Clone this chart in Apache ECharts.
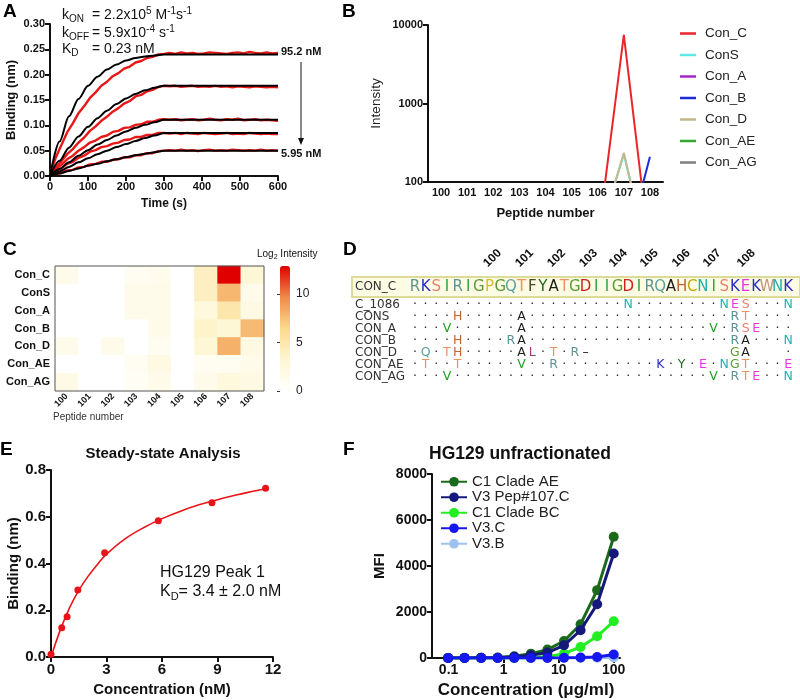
<!DOCTYPE html>
<html>
<head>
<meta charset="utf-8">
<script src="https://cdn.jsdelivr.net/npm/echarts@6/dist/echarts.min.js"></script>
<style>
html,body{margin:0;padding:0;background:#fff}
#main{width:800px;height:700px}
</style>
</head>
<body>
<div id="main"></div>
<script>
var FONT = '"Liberation Sans", Arial, sans-serif';
var AFONT = '"DejaVu Sans", "Noto Sans", sans-serif';

// ---- A: binding kinetics (time in s, binding in nm)
var timeA = [0,15,30,45,60,75,90,105,120,135,150,165,180,195,210,225,240,255,270,285,300,
  315,330,345,360,375,390,405,420,435,450,465,480,495,510,525,540,555,570,585,600];
var raw95 = [0.004,0.036,0.061,0.086,0.104,0.124,0.138,0.154,0.165,0.178,0.186,0.197,0.203,0.212,0.216,0.224,0.227,0.233,0.235,0.240,0.241,
  0.243,0.241,0.244,0.242,0.243,0.241,0.242,0.244,0.243,0.242,0.241,0.243,0.244,0.242,0.245,0.243,0.242,0.244,0.242,0.243];
var raw48 = [0.003,0.017,0.029,0.043,0.053,0.066,0.076,0.089,0.098,0.109,0.117,0.127,0.134,0.143,0.148,0.157,0.160,0.167,0.170,0.176,0.178,
  0.177,0.178,0.176,0.177,0.178,0.176,0.177,0.176,0.178,0.176,0.177,0.175,0.177,0.176,0.175,0.177,0.176,0.175,0.176,0.175];
var raw24 = [0.002,0.014,0.022,0.033,0.040,0.050,0.057,0.066,0.070,0.077,0.080,0.087,0.089,0.095,0.096,0.101,0.102,0.107,0.107,0.111,0.112,
  0.111,0.112,0.110,0.111,0.112,0.110,0.111,0.113,0.111,0.110,0.112,0.111,0.113,0.110,0.111,0.112,0.110,0.111,0.110,0.109];
var raw12 = [0.002,0.010,0.015,0.024,0.028,0.036,0.040,0.048,0.051,0.057,0.059,0.064,0.066,0.071,0.072,0.077,0.077,0.081,0.081,0.085,0.085,
  0.084,0.085,0.083,0.085,0.084,0.083,0.085,0.084,0.083,0.084,0.085,0.083,0.084,0.083,0.085,0.084,0.083,0.084,0.083,0.083];
var raw6 = [0.001,0.005,0.006,0.011,0.012,0.017,0.018,0.023,0.024,0.028,0.028,0.032,0.033,0.037,0.037,0.041,0.041,0.045,0.045,0.049,0.050,
  0.051,0.050,0.052,0.050,0.051,0.049,0.051,0.052,0.050,0.051,0.050,0.052,0.051,0.050,0.051,0.050,0.052,0.050,0.051,0.050];
var fitT = [0,25,50,75,100,125,150,175,200,225,250,275,300,600];
var fit95 = [0,0.068,0.118,0.152,0.178,0.196,0.210,0.220,0.228,0.233,0.236,0.238,0.240,0.240];
var fit48 = [0,0.030,0.056,0.078,0.097,0.114,0.129,0.142,0.153,0.162,0.169,0.174,0.178,0.178];
var fit24 = [0,0.014,0.027,0.040,0.051,0.062,0.071,0.080,0.088,0.095,0.101,0.106,0.111,0.111];
var fit12 = [0,0.009,0.018,0.027,0.035,0.043,0.050,0.057,0.063,0.069,0.075,0.080,0.085,0.085];
var fit6 = [0,0.005,0.010,0.015,0.020,0.024,0.029,0.033,0.037,0.041,0.044,0.047,0.050,0.050];

// ---- B: peptide intensities
var pepCats = ['100','101','102','103','104','105','106','107','108'];
var bNames = ['Con_C','ConS','Con_A','Con_B','Con_D','Con_AE','Con_AG'];
var bColors = ['#e8262b','#5fe6e6','#a526c8','#1c2be0','#c4b88e','#2faa2f','#7f7f7f'];
var bValues = [
  [3,1,1,2,2,1,18,7500,12],
  [1,1,1,3,3,1,19,225,9],
  [1,1,1,3,3,1,6,32,4],
  [1,1,1,1,3,1,11,11,210],
  [3,1,3,1,2,1,17,236,9],
  [1,1,1,2,4,1,2,2,3],
  [3,1,1,2,3,1,3,6,4]
];

// ---- C: log2 intensity heat map
var heatRows = ['Con_C','ConS','Con_A','Con_B','Con_D','Con_AE','Con_AG'];
var heatLog2 = [
  [1.4,0,0,1.0,1.2,0,4.0,12.9,3.0],
  [0,0,0,1.5,1.5,0,4.0,7.8,1.5],
  [0,0,0,1.5,1.5,0,2.5,5.0,2.0],
  [0,0,0,0,1.5,0,3.5,3.0,7.7],
  [1.5,0,1.5,0,1.0,0,3.0,8.1,2.0],
  [0,0,0,1.0,2.0,0,1.0,1.0,1.5],
  [1.8,0,0,0.8,1.5,0,1.5,2.5,2.0]
];

// ---- D: alignment
var seqConC = 'RKSIRIGPGQTFYATGDIIGDIRQAHCNISKEKWNK';
var alignRows = ['C_1086','CONS','CON_A','CON_B','CON_D','CON_AE','CON_AG'];
var alignSeqs = [
  '....................N........NES...N',
  '....H.....A...................RT....',
  '...V......A.................V.RSE...',
  '....H....RA...................RA...N',
  '.Q.TH.....AL.T.R-             GA   .',
  '.T..T.....V..R.........K.Y.E.NGT...E',
  '...V........................V.RTE..N'
];
var pepLabels = ['100','101','102','103','104','105','106','107','108'];
var pepLabelPos = [8, 11, 14, 17, 19.8, 22.7, 25.7, 28.6, 31.8];

// ---- E: steady state
var concE = [0, 0.58, 0.87, 1.45, 2.9, 5.8, 8.7, 11.6];
var bindE = [0.012, 0.125, 0.172, 0.287, 0.446, 0.583, 0.66, 0.722];
var fitConcE = [0,0.5,1,1.5,2,2.5,3,4,5,6,7,8,9,10,11,11.6];
var fitBindE = [0,0.115,0.21,0.285,0.345,0.395,0.44,0.505,0.553,0.592,0.624,0.651,0.673,0.693,0.710,0.720];

// ---- F: MFI titration
var concF = [0.098,0.195,0.39,0.78,1.56,3.125,6.25,12.5,25,50,100];
var fNames = ['C1 Clade AE','V3 Pep#107.C','C1 Clade BC','V3.C','V3.B'];
var fColors = ['#1b6a1b','#14197a','#22ee22','#1616ee','#9ec2f0'];
var fLayer = [3, 5, 4, 6, 2];
var fValues = [
  [5,8,12,20,75,190,365,740,1470,2950,5270],
  [2,4,6,10,50,118,235,553,1206,2338,4546],
  [0,0,0,0,5,10,60,190,480,945,1598],
  [0,0,0,0,0,0,5,10,20,45,150],
  [0,0,0,0,0,0,0,0,5,10,20]
];

var aaColors = {R:'#5f9393',K:'#2a2ac4',S:'#ee7f6e',I:'#33a044',G:'#5f9a38',P:'#dfbb22',Q:'#5d9e9e',
  T:'#ee9260',F:'#4a4a22',Y:'#236623',A:'#1e1e1e',D:'#d01f1f',H:'#be6634',C:'#bcaa14',N:'#22b0b0',
  E:'#ea36e2',W:'#c49280',V:'#20a020',L:'#a0387f'};

function prism(fs, extra) {
  var o = {
    axisLine: { show: true, onZero: false, lineStyle: { color: '#111', width: 2 } },
    axisTick: { show: true, length: 5, lineStyle: { color: '#111', width: 2 } },
    axisLabel: { color: '#111', fontFamily: FONT, fontWeight: 'bold', fontSize: fs, margin: 5 },
    splitLine: { show: false },
    nameLocation: 'middle',
    nameTextStyle: { color: '#111', fontFamily: FONT, fontWeight: 'bold', fontSize: fs + 2 }
  };
  return Object.assign(o, extra);
}
function pairs(xs, ys) { return xs.map(function (x, i) { return [x, ys[i]]; }); }

var hidden = { color: 'rgba(0,0,0,0)', opacity: 1 };
var series = [];
// A
[raw95, raw48, raw24, raw12, raw6].forEach(function (arr) {
  series.push({ type: 'line', xAxisIndex: 0, yAxisIndex: 0, data: pairs(timeA, arr), symbol: 'none',
    lineStyle: { color: '#e81818', width: 2.4 }, z: 2 });
});
[fit95, fit48, fit24, fit12, fit6].forEach(function (arr) {
  series.push({ type: 'line', xAxisIndex: 0, yAxisIndex: 0, data: pairs(fitT, arr), symbol: 'none',
    smooth: 0.3, smoothMonotone: 'x', lineStyle: { color: '#000', width: 2 }, z: 3 });
});
// B
bNames.forEach(function (n, i) {
  series.push({ type: 'line', name: n, xAxisIndex: 1, yAxisIndex: 1, data: bValues[i], symbol: 'none',
    color: bColors[i], lineStyle: { color: bColors[i], width: 2 }, clip: true });
});
// C
var heatData = [];
heatLog2.forEach(function (row, r) { row.forEach(function (v, c) { heatData.push([c, r, v]); }); });
var heatIndex = series.length;
series.push({ type: 'heatmap', xAxisIndex: 2, yAxisIndex: 2, data: heatData, emphasis: { disabled: true } });
// D header
var letterLabel = { show: true, position: 'inside', formatter: '{b}', fontFamily: AFONT, opacity: 1, textBorderWidth: 0 };
series.push({ type: 'scatter', xAxisIndex: 4, yAxisIndex: 4, symbolSize: 1, itemStyle: hidden, silent: true,
  data: seqConC.split('').map(function (c, i) { return { value: [i + 1, 0], name: c, label: { color: aaColors[c] } }; }),
  label: Object.assign({ fontSize: 15 }, letterLabel) });
series.push({ type: 'scatter', xAxisIndex: 4, yAxisIndex: 4, symbolSize: 1, itemStyle: hidden, silent: true,
  data: pepLabels.map(function (t, i) { return { value: [pepLabelPos[i], 0], name: t }; }),
  label: { show: true, position: 'top', distance: 17, align: 'left', verticalAlign: 'bottom', rotate: 45,
    formatter: '{b}', color: '#111', fontFamily: FONT, fontWeight: 'bold', fontSize: 12, opacity: 1 } });
// D rows
var rowData = [];
alignSeqs.forEach(function (s, r) {
  s.split('').forEach(function (c, i) {
    if (c === ' ') return;
    var t = c === '.' ? '\u00b7' : (c === '-' ? '\u2013' : c);
    rowData.push({ value: [i + 1, r], name: t, label: { color: aaColors[c] || '#222' } });
  });
});
series.push({ type: 'scatter', xAxisIndex: 5, yAxisIndex: 5, symbolSize: 1, itemStyle: hidden, silent: true,
  data: rowData, label: Object.assign({ fontSize: 12.5 }, letterLabel) });
// E
series.push({ type: 'line', xAxisIndex: 6, yAxisIndex: 6, data: pairs(fitConcE, fitBindE), symbol: 'none', smooth: 0.4,
  lineStyle: { color: '#e8141a', width: 1.6 } });
series.push({ type: 'scatter', xAxisIndex: 6, yAxisIndex: 6, data: pairs(concE, bindE), symbolSize: 7,
  itemStyle: { color: '#e8141a', opacity: 1 } });
// F
fNames.forEach(function (n, i) {
  series.push({ type: 'line', name: n, xAxisIndex: 7, yAxisIndex: 7, data: pairs(concF, fValues[i]),
    symbol: 'circle', symbolSize: 10, color: fColors[i], lineStyle: { color: fColors[i], width: 3 },
    itemStyle: { color: fColors[i] }, z: fLayer[i] });
});

function rich(parts, fs, x, y, extra) {
  return Object.assign({
    type: 'text', x: x, y: y, silent: true,
    style: {
      text: parts, fill: '#111', font: fs + 'px ' + FONT, verticalAlign: 'middle',
      rich: {
        m: { fontSize: fs, fontFamily: FONT, lineHeight: fs + 4, fill: '#111' },
        s: { fontSize: Math.round(fs * 0.7), fontFamily: FONT, lineHeight: Math.round(fs * 0.7), verticalAlign: 'bottom', fill: '#111' },
        p: { fontSize: Math.round(fs * 0.7), fontFamily: FONT, lineHeight: Math.round(fs * 0.7), verticalAlign: 'top', fill: '#111' }
      }
    }
  }, extra || {});
}
function letter(t, x, y) {
  return { type: 'text', x: x, y: y, silent: true,
    style: { text: t, fill: '#000', font: 'bold 19px ' + FONT, verticalAlign: 'top' } };
}

var option = {
  animation: false,
  backgroundColor: '#fff',
  title: [
    { text: 'Steady-state Analysis', left: 163, top: 446, padding: 0, textAlign: 'center',
      textStyle: { fontFamily: FONT, fontWeight: 'bold', fontSize: 15, color: '#111' } },
    { text: 'HG129 unfractionated', left: 520, top: 445, padding: 0, textAlign: 'center',
      textStyle: { fontFamily: FONT, fontWeight: 'bold', fontSize: 17.5, color: '#111' } }
  ],
  legend: [
    { data: bNames, orient: 'vertical', left: 680, top: 26, padding: 0, icon: 'rect', itemWidth: 16, itemHeight: 2.5, itemGap: 6.5,
      textStyle: { fontFamily: FONT, fontSize: 13.5, lineHeight: 15, color: '#222', padding: [0, 0, 0, 4] }, selectedMode: false },
    { data: fNames, orient: 'vertical', left: 440, top: 474, padding: 0, itemWidth: 26, itemHeight: 12, itemGap: 0,
      textStyle: { fontFamily: FONT, fontSize: 15, lineHeight: 15.5, color: '#222' }, selectedMode: false }
  ],
  visualMap: {
    type: 'continuous', seriesIndex: heatIndex, min: 0, max: 12.9, left: 280, top: 266, padding: 0,
    itemWidth: 10, itemHeight: 125, calculable: false, text: null, hoverLink: false,
    inRange: { color: ['#ffffff', '#fef6d2', '#fbd98d', '#f08a48', '#e00000'] }
  },
  grid: [
    { left: 50, top: 24, width: 228, height: 152 },
    { left: 428, top: 25, width: 235, height: 157 },
    { left: 55, top: 266, width: 209, height: 125 },
    { left: 280, top: 266, width: 10, height: 125 },
    { left: 352, top: 277, width: 448, height: 20, show: true, backgroundColor: '#fcfce4', borderColor: '#dcdc96', borderWidth: 2 },
    { left: 352, top: 299, width: 448, height: 84 },
    { left: 51, top: 470, width: 222, height: 187 },
    { left: 432, top: 474, width: 188, height: 184 }
  ],
  xAxis: [
    prism(11, { gridIndex: 0, type: 'value', min: 0, max: 600, interval: 100, name: 'Time (s)', nameGap: 22,
      nameTextStyle: { color: '#111', fontFamily: FONT, fontWeight: 'bold', fontSize: 12 } }),
    prism(11, { gridIndex: 1, type: 'category', data: pepCats, boundaryGap: true, axisTick: { show: false },
      name: 'Peptide number', nameGap: 25,
      nameTextStyle: { color: '#111', fontFamily: FONT, fontWeight: 'bold', fontSize: 13 } }),
    { gridIndex: 2, type: 'category', data: pepCats, axisLine: { show: false }, axisTick: { show: false },
      axisLabel: { interval: 0, rotate: 45, margin: 4, color: '#111', fontFamily: FONT, fontWeight: 'bold', fontSize: 9 } },
    { gridIndex: 3, type: 'value', show: false },
    { gridIndex: 4, type: 'value', min: -4.9, max: 37.1, show: false },
    { gridIndex: 5, type: 'value', min: -4.9, max: 37.1, show: false },
    prism(15, { gridIndex: 6, type: 'value', min: 0, max: 12, interval: 3, name: 'Concentration (nM)', nameGap: 25,
      nameTextStyle: { color: '#111', fontFamily: FONT, fontWeight: 'bold', fontSize: 15 } }),
    prism(14, { gridIndex: 7, type: 'log', logBase: 10, min: 0.05, max: 130, name: 'Concentration (\u03bcg/ml)', nameGap: 24,
      nameTextStyle: { color: '#111', fontFamily: FONT, fontWeight: 'bold', fontSize: 17 },
      axisLabel: { color: '#111', fontFamily: FONT, fontWeight: 'bold', fontSize: 14, margin: 5, showMinLabel: false, showMaxLabel: false,
        formatter: function (v) { return String(parseFloat(Number(v).toPrecision(3))); } } })
  ],
  yAxis: [
    prism(11, { gridIndex: 0, type: 'value', min: 0, max: 0.3, interval: 0.05, name: 'Binding (nm)', nameGap: 32,
      nameTextStyle: { color: '#111', fontFamily: FONT, fontWeight: 'bold', fontSize: 13 },
      axisLabel: { color: '#111', fontFamily: FONT, fontWeight: 'bold', fontSize: 11, margin: 5,
        formatter: function (v) { return v.toFixed(2); } } }),
    prism(11, { gridIndex: 1, type: 'log', logBase: 10, min: 100, max: 10000, name: 'Intensity', nameGap: 45,
      nameTextStyle: { color: '#222', fontFamily: FONT, fontSize: 13.5 },
      axisLabel: { color: '#111', fontFamily: FONT, fontWeight: 'bold', fontSize: 11, margin: 5,
        formatter: function (v) { return String(Math.round(v)); } } }),
    { gridIndex: 2, type: 'category', data: heatRows, inverse: true, axisLine: { show: false }, axisTick: { show: false },
      axisLabel: { interval: 0, margin: 5, color: '#111', fontFamily: FONT, fontWeight: 'bold', fontSize: 11 } },
    { gridIndex: 3, type: 'value', position: 'right', min: 0, max: 12.9, interval: 5,
      axisLine: { show: false }, splitLine: { show: false },
      axisTick: { show: true, inside: true, length: 3, lineStyle: { color: '#333' } },
      axisLabel: { showMaxLabel: false, margin: 6, color: '#222', fontFamily: FONT, fontSize: 12 } },
    { gridIndex: 4, type: 'category', data: ['CON_C'], axisLine: { show: false }, axisTick: { show: false },
      axisLabel: { interval: 0, inside: true, margin: 3, color: '#333', fontFamily: AFONT, fontSize: 12 } },
    { gridIndex: 5, type: 'category', data: alignRows, inverse: true, axisLine: { show: false }, axisTick: { show: false },
      axisLabel: { interval: 0, inside: true, margin: 3, color: '#333', fontFamily: AFONT, fontSize: 12 } },
    prism(15, { gridIndex: 6, type: 'value', min: 0, max: 0.8, interval: 0.2, name: 'Binding (nm)', nameGap: 28,
      nameTextStyle: { color: '#111', fontFamily: FONT, fontWeight: 'bold', fontSize: 15 },
      axisLabel: { color: '#111', fontFamily: FONT, fontWeight: 'bold', fontSize: 15, margin: 5,
        formatter: function (v) { return v.toFixed(1); } } }),
    prism(14, { gridIndex: 7, type: 'value', min: 0, max: 8000, interval: 2000, name: 'MFI', nameGap: 45,
      nameTextStyle: { color: '#111', fontFamily: FONT, fontWeight: 'bold', fontSize: 15 },
      axisLabel: { color: '#111', fontFamily: FONT, fontWeight: 'bold', fontSize: 14, margin: 5,
        formatter: function (v) { return String(v); } } })
  ],
  series: series,
  graphic: { elements: [
    letter('A', 3, 2), letter('B', 342, 2), letter('C', 3, 240), letter('D', 343, 240), letter('E', 0, 440), letter('F', 343, 440),
    rich('{m|k}{s|ON}', 14, 62, 15),
    rich('{m|= 2.2x10}{p|5}{m| M}{p|-1}{m|s}{p|-1}', 14, 92, 15),
    rich('{m|k}{s|OFF}', 14, 62, 33),
    rich('{m|= 5.9x10}{p|-4}{m| s}{p|-1}', 14, 92, 33),
    rich('{m|K}{s|D}', 14, 62, 49),
    rich('{m|= 0.23 nM}', 14, 92, 49),
    { type: 'text', x: 281, y: 52, silent: true, style: { text: '95.2 nM', fill: '#111', font: 'bold 11px ' + FONT, verticalAlign: 'middle' } },
    { type: 'text', x: 281, y: 154, silent: true, style: { text: '5.95 nM', fill: '#111', font: 'bold 11px ' + FONT, verticalAlign: 'middle' } },
    { type: 'line', silent: true, shape: { x1: 301, y1: 62, x2: 301, y2: 139 }, style: { stroke: '#111', lineWidth: 1 } },
    { type: 'polygon', silent: true, shape: { points: [[298, 138], [304, 138], [301, 145]] }, style: { fill: '#111' } },
    rich('{m|Log}{s|2}{m| Intensity}', 10, 257, 254),
    { type: 'text', x: 53, y: 417, silent: true, style: { text: 'Peptide number', fill: '#333', font: '10px ' + FONT, verticalAlign: 'middle' } },
    { type: 'rect', silent: true, z: 100, shape: { x: 55, y: 266, width: 209, height: 125 }, style: { fill: null, stroke: '#555', lineWidth: 1 } },
    rich('{m|HG129 Peak 1}', 16, 160, 573),
    rich('{m|K}{s|D}{m|= 3.4 \u00b1 2.0 nM}', 16, 160, 592)
  ] }
};

var chart = echarts.init(document.getElementById('main'), null, { renderer: 'canvas' });
chart.setOption(option);
</script>
</body>
</html>
